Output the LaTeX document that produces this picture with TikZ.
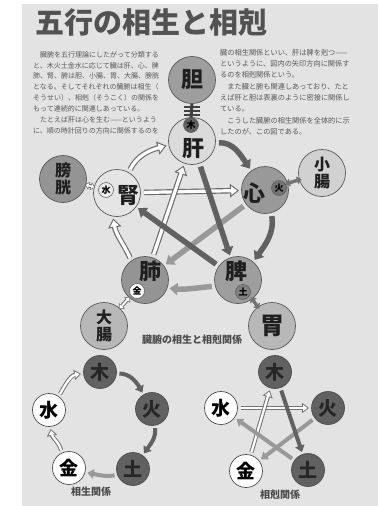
\documentclass[tikz,border=0pt]{standalone}
\usepackage{fontspec}
\newfontfamily\jp{Noto Sans CJK JP}
\usetikzlibrary{arrows.meta}
\newcommand\hol[1]{\draw[holout] #1; \draw[holin] #1;}
\newcommand\holsm[1]{\draw[smholout] #1; \draw[smholin] #1;}
\newcommand\holpair[1]{\draw[pairho] #1; \draw[pairhi] #1;}
\begin{document}
\begin{tikzpicture}[x=1pt,y=-1pt,
  organ/.style={circle, draw=black!65, line width=0.7pt, minimum size=47pt, inner sep=0pt, outer sep=0.5pt, font=\jp\bfseries\fontsize{22}{22}\selectfont, text=black!88},
  twoch/.style={organ, align=center, font=\jp\bfseries\fontsize{16}{17}\selectfont},
  glyph/.style={inner sep=0pt, font=\jp\bfseries\fontsize{22}{22}\selectfont, text=black!88},
  tag/.style={circle, draw=black!65, line width=0.5pt, minimum size=15pt, inner sep=0pt, font=\jp\bfseries\fontsize{9}{9}\selectfont},
  elem/.style={circle, draw=black!70, line width=0.7pt, minimum size=33pt, inner sep=0pt, outer sep=1pt, font=\jp\bfseries\fontsize{19}{19}\selectfont},
  darkel/.style={elem, fill=black!62, text=black!85},
  lightel/.style={elem, fill=white, text=black},
  bigdark/.style={draw=black!62, line width=5.5pt, shorten <=3pt, shorten >=2pt, -{Triangle[length=8pt,width=12pt]}},
  biggray/.style={bigdark, draw=black!40},
  holout/.style={draw=black!58, line width=5.5pt, shorten <=3pt, shorten >=2pt, -{Triangle[length=9pt,width=13pt]}},
  holin/.style={draw=white, line width=3.2pt, shorten <=3pt, shorten >=3.8pt, -{Triangle[length=6pt,width=8.5pt]}},
  smdark/.style={draw=black!62, line width=4pt, shorten <=2pt, shorten >=1.5pt, -{Triangle[length=6.5pt,width=9.5pt]}},
  smgray/.style={smdark, draw=black!40},
  smholout/.style={draw=black!55, line width=4.2pt, shorten <=2pt, shorten >=1.5pt, -{Triangle[length=7pt,width=10pt]}},
  smholin/.style={draw=white, line width=2.2pt, shorten <=2pt, shorten >=3pt, -{Triangle[length=4.5pt,width=6pt]}},
  pairg/.style={draw=black!55, line width=3.4pt, shorten <=-2.5pt, shorten >=-2.5pt, {Triangle[length=4.5pt,width=8pt]}-{Triangle[length=4.5pt,width=8pt]}},
  pairho/.style={draw=black!58, line width=3.8pt, shorten <=-1.5pt, shorten >=-1.5pt, {Triangle[length=4.5pt,width=8pt]}-{Triangle[length=4.5pt,width=8pt]}},
  pairhi/.style={draw=white, line width=1.8pt, shorten <=-0.5pt, shorten >=-0.5pt, {Triangle[length=3pt,width=5pt]}-{Triangle[length=3pt,width=5pt]}},
  body/.style={inner sep=0pt, anchor=north west, align=left, text=black!66},
  caption/.style={inner sep=0pt, font=\jp\bfseries\fontsize{10}{10}\selectfont, text=black!70},
]
\useasboundingbox (0,0) rectangle (378,506);
\fill[white] (0,0) rectangle (378,506);
\fill[black!11] (22,4) rectangle (378,506);

% title
\node[inner sep=0pt, font=\jp\bfseries\fontsize{29}{29}\selectfont, text=black!68] (title) at (151,23) {五行の相生と相剋};

% body text
\node[body, font=\jp\fontsize{7}{10.9}\selectfont] (lefttext) at (33,51) {%
　臓腑を五行理論にしたがって分類する\\
と、木火土金水に応じて臓は肝、心、脾\\
肺、腎、腑は胆、小腸、胃、大腸、膀胱\\
となる。そしてそれぞれの臓腑は相生（\\
そうせい）、相剋（そうこく）の関係を\\
もって連続的に関連しあっている。\\
　たとえば肝は心を生む——というよう\\
に、順の時計回りの方向に関係するのを};
\node[body, font=\jp\fontsize{7.2}{11.3}\selectfont] (righttext) at (220,49) {%
臓の相生関係といい、肝は脾を剋つ——\\
というように、図内の矢印方向に関係す\\
るのを相剋関係という。\\
　また臓と腑も関連しあっており、たと\\
えば肝と胆は表裏のように密接に関係し\\
ている。\\
　こうした臓腑の相生関係を全体的に示\\
したのが、この図である。};

% organs
\node[organ, fill=black!38] (dan) at (192,80) {胆};
\node[organ, fill=black!14] (gan) at (192,141) {};
\node[glyph] (gant) at (193,149) {肝};
\node[organ, fill=black!40] (xin) at (265,190) {};
\node[glyph] (xint) at (254,193) {心};
\node[twoch, fill=black!18] (xc) at (322,173) {小\\腸};
\node[organ, fill=black!38] (pi) at (238,280) {};
\node[glyph] (pit) at (236,271) {脾};
\node[organ, fill=black!28, font=\jp\bfseries\fontsize{24}{24}\selectfont] (wei) at (272,326) {胃};
\node[organ, fill=black!42] (fei) at (145,280) {};
\node[glyph] (feit) at (150,271) {肺};
\node[twoch, fill=black!28] (dc) at (104,326) {大\\腸};
\node[organ, fill=black!10] (shen) at (117,193) {};
\node[glyph] (shent) at (128,195) {腎};
\node[twoch, fill=black!42] (pg) at (63,179) {膀\\胱};

% element tags
\node[tag, fill=black!62] (gantag) at (191,125) {木};
\node[tag, fill=black!55] (xintag) at (279,188) {火};
\node[tag, fill=black!50] (pitag) at (243,292) {土};
\node[tag, fill=white] (feitag) at (137,291) {金};
\node[tag, fill=black!8] (shentag) at (106,190) {水};

% gallbladder - liver link
\draw[black!75, line width=3pt] (dan.south) -- (gantag.north);
\foreach \yy in {107,111,115} \draw[black!75, line width=1.6pt] (184,\yy) -- (200,\yy);

% controlling (star)
\hol{(shen) -- (xin)}
\hol{(fei) -- (gan)}
\draw[biggray] (xin) -- (fei);
\draw[bigdark] (pi) -- (shen);
\draw[bigdark] (gan) -- (pi);

% generating (cycle)
\draw[bigdark] (gan.-5) to[out=5,in=125] (xin.125);
\draw[bigdark] (xin.-75) to[out=-80,in=55] (pi.50);
\draw[biggray] (pi.195) to[out=185,in=-5] (fei.-20);
\hol{(fei.125) to[out=115,in=-80] (shen.-100)}
\hol{(shen.60) to[out=65,in=195] (gan.190)}

% zang-fu pairs
\draw[pairg] (xin) -- (xc);
\holpair{(pg) -- (shen)}
\holpair{(fei) -- (dc)}
\draw[pairg] (pi) -- (wei);

\node[caption] (cap) at (192,340) {臓腑の相生と相剋関係};

% small generating diagram
\node[darkel] (la) at (100,372) {木};
\node[darkel] (lb) at (152,409) {火};
\node[darkel] (lc) at (133,469) {土};
\node[lightel] (ld) at (69,468) {金};
\node[lightel] (le) at (49,410) {水};
\draw[smdark] (la.-5) to[out=0,in=120] (lb.120);
\draw[smdark] (lb.-80) to[out=-85,in=55] (lc.55);
\draw[smgray] (lc.200) to[out=190,in=-10] (ld.-15);
\holsm{(ld.115) to[out=105,in=-80] (le.-85)}
\holsm{(le.55) to[out=60,in=190] (la.185)}
\node[caption] (lcap) at (91,492) {相生関係};

% small controlling diagram
\node[darkel] (ra) at (275,372) {木};
\node[darkel] (rb) at (328,408) {火};
\node[darkel] (rc) at (308,470) {土};
\node[lightel] (rd) at (246,471) {金};
\node[lightel] (re) at (221,408) {水};
\holsm{(re) -- (rb)}
\holsm{(rd) -- (ra)}
\draw[smgray] (rb) -- (rd);
\draw[smgray] (rc) -- (re);
\draw[smdark] (ra) -- (rc);
\node[caption] (rcap) at (280,495) {相剋関係};
\end{tikzpicture}
\end{document}
